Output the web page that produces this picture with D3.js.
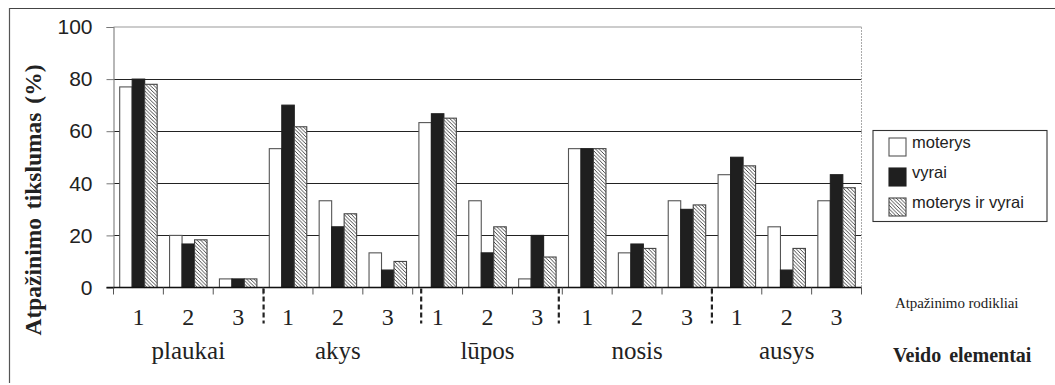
<!DOCTYPE html>
<html lang="lt">
<head>
  <meta charset="UTF-8" />
  <title>Atpažinimo tikslumas</title>
  <style>
    html, body {
      margin: 0;
      background: #fff;
    }
    svg {
      display: block;
    }
    .tick-y {
      font-family: "Liberation Sans", Arial, sans-serif;
      font-size: 21px;
      fill: #222;
    }
    .serif {
      font-family: "Liberation Serif", "Times New Roman", serif;
      fill: #222;
    }
    .legend-text {
      font-family: "Liberation Sans", Arial, sans-serif;
      font-size: 16.5px;
      fill: #222;
    }
  </style>
  <script src="https://d3js.org/d3.v7.min.js"></script>
</head>
<body>
  <svg id="chart" width="1055" height="385"></svg>
  <script>
    // data
    const groups = ["plaukai", "akys", "lūpos", "nosis", "ausys"];
    const indicators = ["1", "2", "3"];
    const seriesNames = ["moterys", "vyrai", "moterys ir vyrai"];

    const moterys = [77, 20, 3.3, 53.3, 33.3, 13.3, 63.3, 33.3, 3.3, 53.3, 13.3, 33.3, 43.3, 23.3, 33.3];
    const vyrai = [80, 16.7, 3.3, 70, 23.3, 6.7, 66.7, 13.3, 20, 53.3, 16.7, 30, 50, 6.7, 43.3];
    const abu = [78, 18.3, 3.3, 61.7, 28.3, 10, 65, 23.3, 11.7, 53.3, 15, 31.7, 46.7, 15, 38.3];

    const yTicks = [0, 20, 40, 60, 80, 100];
    // hand-drawn dashed separators, in category units
    const separators = [3.01, 6.17, 8.93, 12.0];

    const svg = d3.select("#chart");

    // hatch pattern for "moterys ir vyrai"
    const defs = svg.append("defs");
    const pat = defs.append("pattern")
      .attr("id", "hatch")
      .attr("patternUnits", "userSpaceOnUse")
      .attr("width", 3.6)
      .attr("height", 3.6);
    pat.append("rect").attr("width", 3.6).attr("height", 3.6).attr("fill", "#fff");
    pat.append("path")
      .attr("d", "M0,0 L3.6,3.6 M-1,2.6 L1,4.6 M2.6,-1 L4.6,1")
      .attr("stroke", "#333")
      .attr("stroke-width", 0.9);

    // outer frame (top and left only)
    svg.append("line").attr("x1", 9).attr("x2", 1055).attr("y1", 8.5).attr("y2", 8.5)
      .attr("stroke", "#444").attr("stroke-width", 1.2);
    svg.append("line").attr("x1", 9.5).attr("x2", 9.5).attr("y1", 8).attr("y2", 383)
      .attr("stroke", "#555").attr("stroke-width", 1.2);

    const plotLeft = 113.5, plotRight = 861.5, plotTop = 27, plotBottom = 287.5;

    const cats = d3.range(moterys.length);
    const x = d3.scaleBand().domain(cats).range([plotLeft, plotRight]).paddingInner(0).paddingOuter(0);
    const inner = d3.scaleBand().domain(seriesNames).range([6.2, x.bandwidth() - 6.2]);
    const y = d3.scaleLinear().domain([0, 100]).range([plotBottom, plotTop]);
    const catUnit = d3.scaleLinear().domain([0, cats.length]).range([plotLeft, plotRight]);

    // gridlines
    svg.append("g").selectAll("line")
      .data(yTicks.filter(d => d > 0 && d < 100))
      .join("line")
      .attr("x1", plotLeft).attr("x2", plotRight)
      .attr("y1", d => Math.round(y(d)) + 0.5).attr("y2", d => Math.round(y(d)) + 0.5)
      .attr("stroke", "#222").attr("stroke-width", 1.2);

    // top and right plot border
    svg.append("line").attr("x1", plotLeft).attr("x2", plotRight).attr("y1", plotTop).attr("y2", plotTop)
      .attr("stroke", "#999").attr("stroke-width", 1.2);
    svg.append("line").attr("x1", plotRight).attr("x2", plotRight).attr("y1", plotTop).attr("y2", plotBottom)
      .attr("stroke", "#aaa").attr("stroke-width", 1).attr("stroke-dasharray", "2,1");

    // bars
    const series = [
      { name: seriesNames[0], values: moterys, fill: "#fff", stroke: "#555" },
      { name: seriesNames[1], values: vyrai, fill: "#1f1f1f", stroke: "#1f1f1f" },
      { name: seriesNames[2], values: abu, fill: "url(#hatch)", stroke: "#444" }
    ];

    series.forEach(s => {
      svg.append("g").selectAll("rect")
        .data(s.values)
        .join("rect")
        .attr("x", (d, i) => x(i) + inner(s.name))
        .attr("width", inner.bandwidth())
        .attr("y", d => y(d))
        .attr("height", d => y(0) - y(d))
        .attr("fill", s.fill)
        .attr("stroke", s.stroke)
        .attr("stroke-width", 1.1);
    });

    // y axis
    const yAxis = svg.append("g")
      .attr("transform", `translate(${plotLeft},0)`)
      .call(d3.axisLeft(y).tickValues(yTicks).tickSize(7).tickPadding(14));
    yAxis.select(".domain").attr("stroke", "#888").attr("stroke-width", 1.2);
    yAxis.selectAll(".tick line").attr("stroke", "#777");
    yAxis.selectAll(".tick text").attr("class", "tick-y");
    yAxis.attr("font-size", null).attr("font-family", null);

    // x axis (zero line with ticks at category boundaries)
    svg.append("line").attr("x1", plotLeft - 7).attr("x2", plotRight).attr("y1", plotBottom).attr("y2", plotBottom)
      .attr("stroke", "#111").attr("stroke-width", 1.3);
    svg.append("g").selectAll("line")
      .data(d3.range(cats.length + 1))
      .join("line")
      .attr("x1", d => catUnit(d)).attr("x2", d => catUnit(d))
      .attr("y1", plotBottom).attr("y2", plotBottom + 7)
      .attr("stroke", "#555").attr("stroke-width", 1);

    // dashed group separators
    svg.append("g").selectAll("line")
      .data(separators)
      .join("line")
      .attr("x1", d => catUnit(d)).attr("x2", d => catUnit(d))
      .attr("y1", plotBottom + 1).attr("y2", plotBottom + 36)
      .attr("stroke", "#222").attr("stroke-width", 2.2)
      .attr("stroke-dasharray", "5,3");

    // indicator labels 1 2 3
    svg.append("g").selectAll("text")
      .data(cats)
      .join("text")
      .attr("class", "serif")
      .attr("x", i => x(i) + x.bandwidth() / 2)
      .attr("y", 325)
      .attr("text-anchor", "middle")
      .attr("font-size", 24)
      .text(i => indicators[i % 3]);

    // group labels
    svg.append("g").selectAll("text")
      .data(groups)
      .join("text")
      .attr("class", "serif")
      .attr("x", (d, g) => catUnit(g * 3 + 1.5))
      .attr("y", 359)
      .attr("text-anchor", "middle")
      .attr("font-size", 25)
      .text(d => d);

    // y axis title
    svg.append("text")
      .attr("class", "serif")
      .attr("transform", "translate(41,200) rotate(-90)")
      .attr("text-anchor", "middle")
      .attr("font-size", 23.5)
      .attr("font-weight", "bold")
      .attr("word-spacing", 3)
      .text("Atpažinimo tikslumas (%)");

    // right-side axis captions
    svg.append("text")
      .attr("class", "serif")
      .attr("x", 895).attr("y", 308)
      .attr("font-size", 15)
      .attr("letter-spacing", -0.1)
      .text("Atpažinimo rodikliai");
    svg.append("text")
      .attr("class", "serif")
      .attr("x", 893).attr("y", 362)
      .attr("font-size", 20)
      .attr("font-weight", "bold")
      .attr("word-spacing", 3)
      .text("Veido elementai");

    // legend
    const legend = svg.append("g");
    legend.append("rect")
      .attr("x", 873).attr("y", 130.5).attr("width", 174).attr("height", 91)
      .attr("fill", "#fff").attr("stroke", "#333").attr("stroke-width", 1.1);
    const rows = legend.selectAll("g")
      .data(series)
      .join("g")
      .attr("transform", (d, i) => `translate(889,${138 + i * 30})`);
    rows.append("rect")
      .attr("width", 17).attr("height", 18)
      .attr("fill", d => d.fill)
      .attr("stroke", d => d.stroke)
      .attr("stroke-width", 1.1);
    rows.append("text")
      .attr("class", "legend-text")
      .attr("x", 23).attr("y", 10)
      .text(d => d.name);
  </script>
</body>
</html>
